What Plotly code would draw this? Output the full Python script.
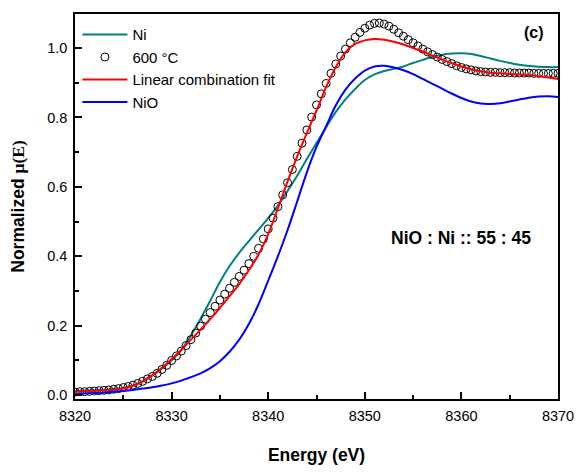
import plotly.graph_objects as go

# ---- data ----
energy_line = [8320, 8321, 8322, 8323, 8324, 8325, 8326, 8327, 8328, 8329,
               8330, 8331, 8332, 8333, 8334, 8335, 8336, 8337, 8338, 8339,
               8340, 8341, 8342, 8343, 8344, 8345, 8346, 8347, 8348, 8349,
               8350, 8351, 8352, 8353, 8354, 8355, 8356, 8357, 8358, 8359,
               8360, 8361, 8362, 8363, 8364, 8365, 8366, 8367, 8368, 8369, 8370]

ni_ref = [0.012, 0.013, 0.014, 0.016, 0.018, 0.021, 0.028, 0.040, 0.057, 0.077,
          0.100, 0.130, 0.172, 0.220, 0.272, 0.326, 0.372, 0.410, 0.444, 0.477,
          0.510, 0.546, 0.588, 0.632, 0.680, 0.726, 0.772, 0.816, 0.852, 0.882,
          0.908, 0.924, 0.934, 0.940, 0.947, 0.957, 0.966, 0.975, 0.981, 0.984,
          0.985, 0.983, 0.977, 0.970, 0.963, 0.957, 0.952, 0.948, 0.946, 0.945, 0.945]

lc_fit = [0.010, 0.011, 0.012, 0.014, 0.016, 0.019, 0.027, 0.040, 0.057, 0.079,
          0.104, 0.130, 0.160, 0.189, 0.219, 0.251, 0.285, 0.320, 0.360, 0.405,
          0.464, 0.538, 0.615, 0.688, 0.755, 0.820, 0.888, 0.945, 0.988, 1.012,
          1.022, 1.026, 1.024, 1.018, 1.010, 1.000, 0.990, 0.978, 0.967, 0.956,
          0.947, 0.939, 0.933, 0.929, 0.927, 0.925, 0.924, 0.922, 0.919, 0.915, 0.911]

nio_ref = [0.003, 0.005, 0.006, 0.008, 0.010, 0.012, 0.015, 0.019, 0.023, 0.028,
           0.034, 0.042, 0.052, 0.063, 0.078, 0.098, 0.125, 0.160, 0.205, 0.262,
           0.330, 0.400, 0.475, 0.558, 0.642, 0.715, 0.775, 0.835, 0.880, 0.912,
           0.935, 0.947, 0.949, 0.944, 0.936, 0.925, 0.911, 0.897, 0.883, 0.869,
           0.856, 0.846, 0.840, 0.839, 0.841, 0.846, 0.852, 0.857, 0.860, 0.861, 0.859]

energy_sample = [8320 + 0.5 * i for i in range(101)]
sample_600C = [0.009, 0.010, 0.010, 0.011, 0.012, 0.013, 0.014, 0.015, 0.017, 0.019,
               0.022, 0.025, 0.029, 0.034, 0.040, 0.047, 0.054, 0.063, 0.074, 0.086,
               0.100, 0.113, 0.127, 0.143, 0.160, 0.179, 0.199, 0.219, 0.238, 0.256,
               0.274, 0.291, 0.308, 0.325, 0.342, 0.360, 0.379, 0.400, 0.423, 0.450,
               0.479, 0.510, 0.543, 0.577, 0.612, 0.650, 0.688, 0.726, 0.764, 0.801,
               0.836, 0.868, 0.898, 0.927, 0.954, 0.977, 0.997, 1.015, 1.031, 1.045,
               1.057, 1.066, 1.071, 1.072, 1.069, 1.063, 1.054, 1.044, 1.034, 1.024,
               1.015, 1.006, 0.997, 0.989, 0.981, 0.974, 0.967, 0.961, 0.955, 0.949,
               0.944, 0.940, 0.937, 0.934, 0.932, 0.931, 0.930, 0.930, 0.929, 0.929,
               0.929, 0.928, 0.928, 0.928, 0.928, 0.927, 0.927, 0.927, 0.927, 0.927, 0.927]

x_ticks = [8320, 8330, 8340, 8350, 8360, 8370]
y_ticks = [0.0, 0.2, 0.4, 0.6, 0.8, 1.0]
y_tick_labels = ["0.0", "0.2", "0.4", "0.6", "0.8", "1.0"]

FONT = "Liberation Sans, Arial, sans-serif"

fig = go.Figure()
fig.add_trace(go.Scatter(x=energy_line, y=ni_ref, mode="lines", name="Ni",
                         line=dict(color="#008080", width=2, shape="spline")))
fig.add_trace(go.Scatter(x=energy_sample, y=sample_600C, mode="markers", name="600 °C",
                         marker=dict(symbol="circle-open", size=8, color="black",
                                     line=dict(width=1, color="black"))))
fig.add_trace(go.Scatter(x=energy_line, y=lc_fit, mode="lines", name="Linear combination fit",
                         line=dict(color="#FF0000", width=2, shape="spline")))
fig.add_trace(go.Scatter(x=energy_line, y=nio_ref, mode="lines", name="NiO",
                         line=dict(color="#0000FF", width=2, shape="spline")))

axis_common = dict(showline=True, linecolor="black", linewidth=1.5, mirror=True,
                   ticks="inside", ticklen=7, tickwidth=1.5, tickcolor="black",
                   showgrid=False, zeroline=False, ticklabelstandoff=3,
                   tickfont=dict(family=FONT, size=14.5, color="black"))

fig.update_xaxes(range=[8320, 8370], tickvals=x_ticks,
                 minor=dict(ticks="inside", ticklen=4, tickwidth=1.5, tickcolor="black", dtick=5),
                 title=dict(text="<b>Energy (eV)</b>", font=dict(family=FONT, size=17.5, color="black"),
                            standoff=26),
                 **axis_common)
fig.update_yaxes(range=[-0.011, 1.098], tickvals=y_ticks, ticktext=y_tick_labels,
                 minor=dict(ticks="inside", ticklen=4, tickwidth=1.5, tickcolor="black", dtick=0.1),
                 title=dict(text="<b>Normalized <span style='font-family:Liberation Serif'>μ(E)</span></b>",
                            font=dict(family=FONT, size=17.5, color="black"), standoff=18),
                 **axis_common)

fig.add_annotation(x=0.951, y=0.951, xref="paper", yref="paper", text="<b>(c)</b>",
                   xanchor="center", yanchor="middle",
                   showarrow=False, font=dict(family=FONT, size=16, color="black"))
fig.add_annotation(x=0.80, y=0.419, xref="paper", yref="paper",
                   text="<b>NiO : Ni :: 55 : 45</b>", showarrow=False,
                   xanchor="center", yanchor="middle",
                   font=dict(family=FONT, size=17.5, color="black"))

fig.update_layout(
    width=586, height=474,
    margin=dict(l=75, r=22, t=12, b=71),
    paper_bgcolor="white", plot_bgcolor="white",
    showlegend=True,
    hovermode=False,
    legend=dict(x=0.005, y=0.989, xanchor="left", yanchor="top",
                bgcolor="rgba(0,0,0,0)", borderwidth=0,
                font=dict(family=FONT, size=15, color="black"),
                itemwidth=45, tracegroupgap=0),
)

# remove the default page margin so the figure fills the window exactly
fig.write_html("out.html", config={"displayModeBar": False},
               post_script="document.body.style.margin='0';document.body.style.overflow='hidden';")
